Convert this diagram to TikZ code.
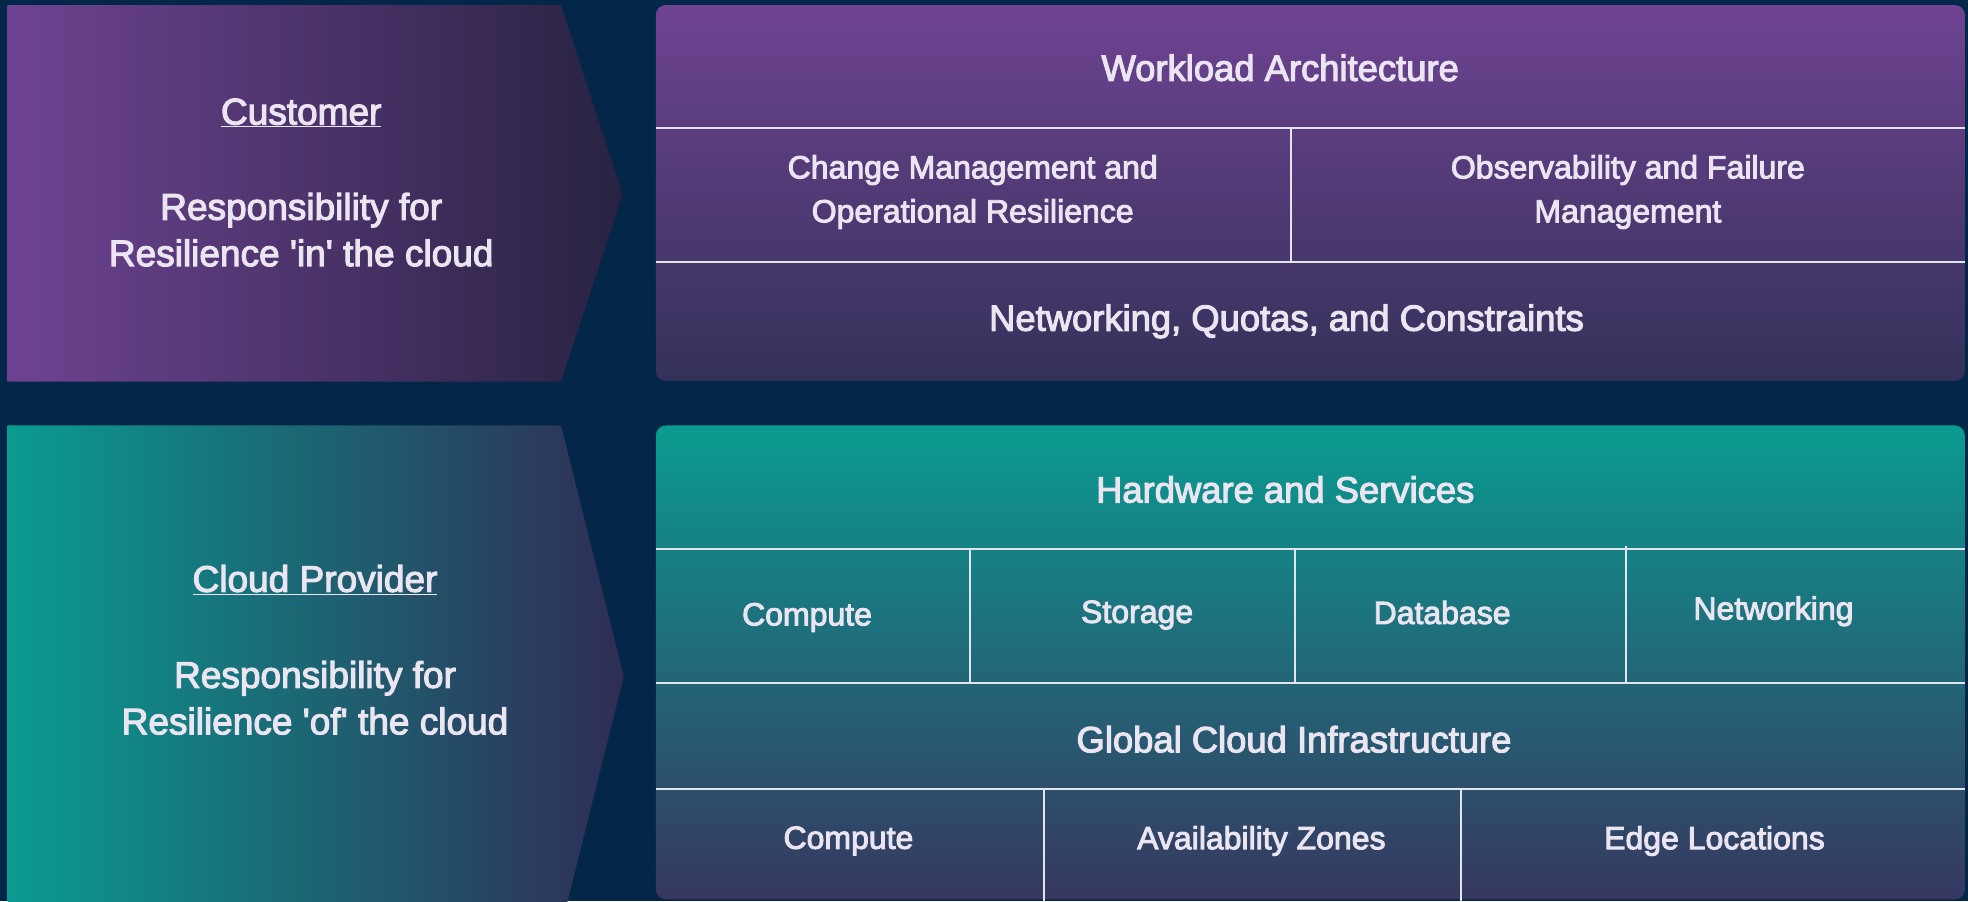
\documentclass[tikz,border=0pt]{standalone}
\usepackage{fontspec}
\setmainfont{Liberation Sans}[BoldFont={Liberation Sans}, BoldFeatures={FakeBold=3}]
\definecolor{bgnavy}{RGB}{4,38,73}
\definecolor{purpA}{RGB}{110,67,146}
\definecolor{purpB}{RGB}{52,49,89}
\definecolor{arrPurpR}{RGB}{40,35,66}
\definecolor{tealA}{RGB}{10,155,145}
\definecolor{tealB}{RGB}{55,55,96}
\definecolor{arrTealR}{RGB}{47,45,85}
\definecolor{txtc}{RGB}{234,229,240}
\definecolor{divline}{RGB}{226,228,238}
\tikzset{
  divider/.style={draw=divline, line width=1.6pt},
  headtxt/.style={text=txtc, align=center, font=\fontsize{29}{36}\selectfont\bfseries, inner sep=0pt},
  subtxt/.style={text=txtc, align=center, font=\fontsize{25.5}{35}\selectfont\bfseries, inner sep=0pt},
  sidetxt/.style={text=txtc, align=center, font=\fontsize{29.5}{37}\selectfont\bfseries, inner sep=0pt},
}
\begin{document}
\begin{tikzpicture}[x=1pt,y=-1pt]
\useasboundingbox (0,0) rectangle (1568,718);
\fill[bgnavy] (0,0) rectangle (1568,718);

% ---- customer arrow
\shade[left color=purpA, right color=arrPurpR] (6,4) -- (447,4) -- (496,155) -- (447,304) -- (6,304) -- cycle;
% ---- provider arrow
\shade[left color=tealA, right color=arrTealR] (6,339) -- (447,339) -- (497,539) -- (447,739) -- (6,739) -- cycle;

% ---- customer box
\shade[top color=purpA, bottom color=purpB, rounded corners=8] (522.5,4) rectangle (1565.5,303.5);
\coordinate (cL1) at (522.5,102.3); \coordinate (cR1) at (1565.5,102.3);
\coordinate (cL2) at (522.5,209);   \coordinate (cR2) at (1565.5,209);
\coordinate (cV1) at (1028.2,102.3); \coordinate (cV2) at (1028.2,209);
\draw[divider] (cL1) -- (cR1);
\draw[divider] (cL2) -- (cR2);
\draw[divider] (cV1) -- (cV2);

% ---- provider box
\shade[top color=tealA, bottom color=tealB, rounded corners=8] (522.5,339) rectangle (1565.5,716.5);
\coordinate (pL1) at (522.5,437.7); \coordinate (pR1) at (1565.5,437.7);
\coordinate (pL2) at (522.5,544);   \coordinate (pR2) at (1565.5,544);
\coordinate (pL3) at (522.5,629);   \coordinate (pR3) at (1565.5,629);
\draw[divider] (pL1) -- (pR1);
\draw[divider] (pL2) -- (pR2);
\draw[divider] (pL3) -- (pR3);
\coordinate (pa1) at (772.5,437.7); \coordinate (pa2) at (772.5,544);
\coordinate (pb1) at (1032,437.7);  \coordinate (pb2) at (1032,544);
\coordinate (pc1) at (1295.8,435);  \coordinate (pc2) at (1295.8,544);
\draw[divider] (pa1) -- (pa2);
\draw[divider] (pb1) -- (pb2);
\draw[divider] (pc1) -- (pc2);
\coordinate (pd1) at (832,629); \coordinate (pd2) at (832,718);
\coordinate (pe1) at (1164,629); \coordinate (pe2) at (1164,718);
\draw[divider] (pd1) -- (pd2);
\draw[divider] (pe1) -- (pe2);

% ---- side texts
\node[sidetxt] (cust) at (240,90) {\underline{Customer}};
\node[sidetxt] (custresp) at (240,183) {Responsibility for\\Resilience \textquotesingle in\textquotesingle{} the cloud};
\node[sidetxt] (prov) at (251,462) {\underline{Cloud Provider}};
\node[sidetxt] (provresp) at (251,556) {Responsibility for\\Resilience \textquotesingle of\textquotesingle{} the cloud};

% ---- customer box texts
\node[headtxt] (wa) at (1020,54) {Workload Architecture};
\node[subtxt] (cm) at (775,153) {Change Management and\\Operational Resilience};
\node[subtxt] (ob) at (1297,153) {Observability and Failure\\Management};
\node[headtxt] (nq) at (1025,256) {Networking, Quotas, and Constraints};

% ---- provider box texts
\node[headtxt] (hs) at (1024,390) {Hardware and Services};
\node[subtxt] (hc) at (643,492) {Compute};
\node[subtxt] (hst) at (906,490) {Storage};
\node[subtxt] (hdb) at (1149,488) {Database};
\node[subtxt] (hnw) at (1413,487) {Networking};
\node[headtxt] (gci) at (1031,589) {Global Cloud Infrastructure};
\node[subtxt] (gc) at (676,670) {Compute};
\node[subtxt] (gaz) at (1005,670) {Availability Zones};
\node[subtxt] (gel) at (1366,670) {Edge Locations};
\end{tikzpicture}
\end{document}
